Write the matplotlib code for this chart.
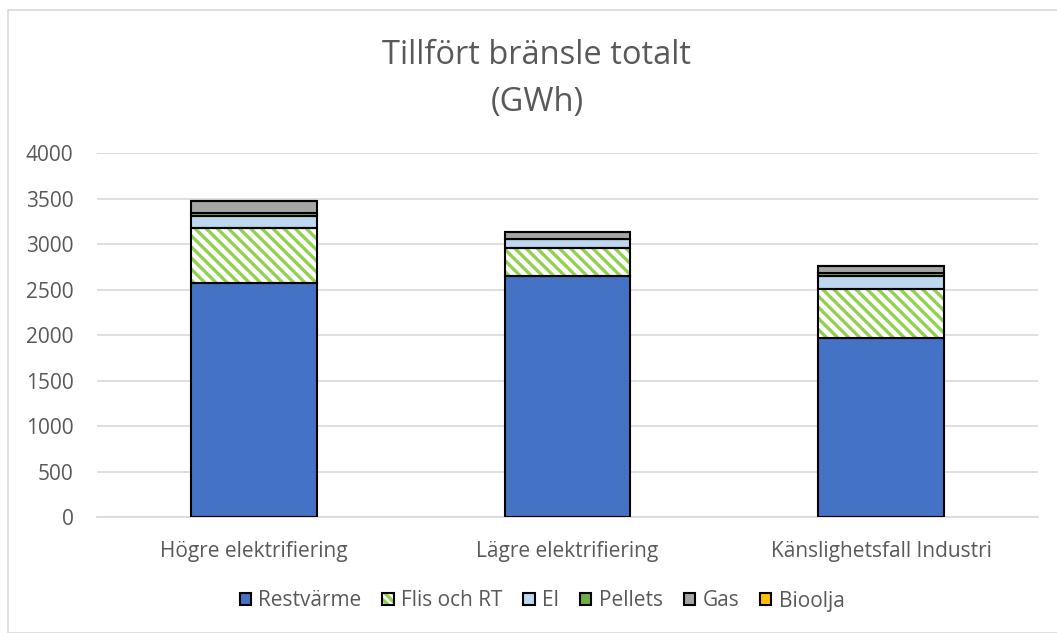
import matplotlib.pyplot as plt
from matplotlib.patches import Rectangle, Patch
import numpy as np

# Data (GWh)
categories = ["Högre elektrifiering", "Lägre elektrifiering", "Känslighetsfall Industri"]
series_names = ["Restvärme", "Flis och RT", "El", "Pellets", "Gas", "Bioolja"]
restvarme = [2570, 2645, 1965]
flis = [605, 310, 540]
el = [130, 100, 143]
pellets = [33, 5, 37]
gas = [132, 69, 73]
bioolja = [0, 0, 0]
yticks = [0, 500, 1000, 1500, 2000, 2500, 3000, 3500, 4000]

series = [restvarme, flis, el, pellets, gas, bioolja]
colors = ["#4472C4", "white", "#BDD7EE", "#70AD47", "#A5A5A5", "#FFC000"]
hatch_green = "#92D050"
text_color = "#595959"

plt.rcParams['font.family'] = ['Open Sans', 'DejaVu Sans']
plt.rcParams['hatch.linewidth'] = 2.4

fig = plt.figure(figsize=(10.57, 6.33), dpi=100)
ax = fig.add_axes([97 / 1057, 1 - 517 / 633, (1038 - 97) / 1057, (517 - 153) / 633])

# chart frame
fig.patches.append(Rectangle((8 / 1057, 0), 1.0, 1 - 10 / 633, transform=fig.transFigure,
                             fill=False, edgecolor="#D9D9D9", linewidth=1.2))

x = np.arange(len(categories))
bottom = np.zeros(len(categories))
handles = []
for name, vals, col in zip(series_names, series, colors):
    vals = np.array(vals, dtype=float)
    if name == "Flis och RT":
        # hatch takes the edge colour, so draw the green stripes first, then a black outline
        ax.bar(x, vals, width=0.4, bottom=bottom, color="white", hatch="\\\\\\",
               edgecolor=hatch_green, linewidth=0, zorder=3)
        ax.bar(x, vals, width=0.4, bottom=bottom, fill=False,
               edgecolor="black", linewidth=1.5, zorder=4)
        handles.append((Patch(facecolor="white", hatch="\\\\\\\\", edgecolor=hatch_green, linewidth=0),
                        Patch(fill=False, edgecolor="black", linewidth=1.5)))
    else:
        ax.bar(x, vals, width=0.4, bottom=bottom, color=col,
               edgecolor="black", linewidth=1.5, zorder=3)
        handles.append(Patch(facecolor=col, edgecolor="black", linewidth=1.5))
    bottom += vals

ax.set_ylim(0, 4000)
ax.set_xlim(-0.5, len(categories) - 0.5)
ax.set_yticks(yticks)
ax.set_xticks(x)
ax.set_xticklabels(categories)
ax.tick_params(axis='both', length=0, colors=text_color, labelsize=15)
ax.tick_params(axis='x', pad=17)
ax.tick_params(axis='y', pad=17)
ax.grid(axis='y', color="#D9D9D9", linewidth=1.2, zorder=0)
for s in ["top", "right", "left"]:
    ax.spines[s].set_visible(False)
ax.spines["bottom"].set_color("#D9D9D9")
ax.spines["bottom"].set_linewidth(1.2)

fig.text(537 / 1057, 1 - 55 / 633, "Tillfört bränsle totalt", ha='center', va='center',
         fontsize=23.5, color=text_color)
fig.text(537 / 1057, 1 - 103 / 633, "(GWh)", ha='center', va='center',
         fontsize=23.5, color=text_color)

ax.legend(handles, series_names, loc='center', bbox_to_anchor=(542 / 1057, 1 - 601 / 633),
          bbox_transform=fig.transFigure, ncol=6, frameon=False, fontsize=15,
          handlelength=0.55, handleheight=0.55, handletextpad=0.35, columnspacing=1.0,
          labelcolor=text_color)

fig.savefig("out.png", dpi=100)
